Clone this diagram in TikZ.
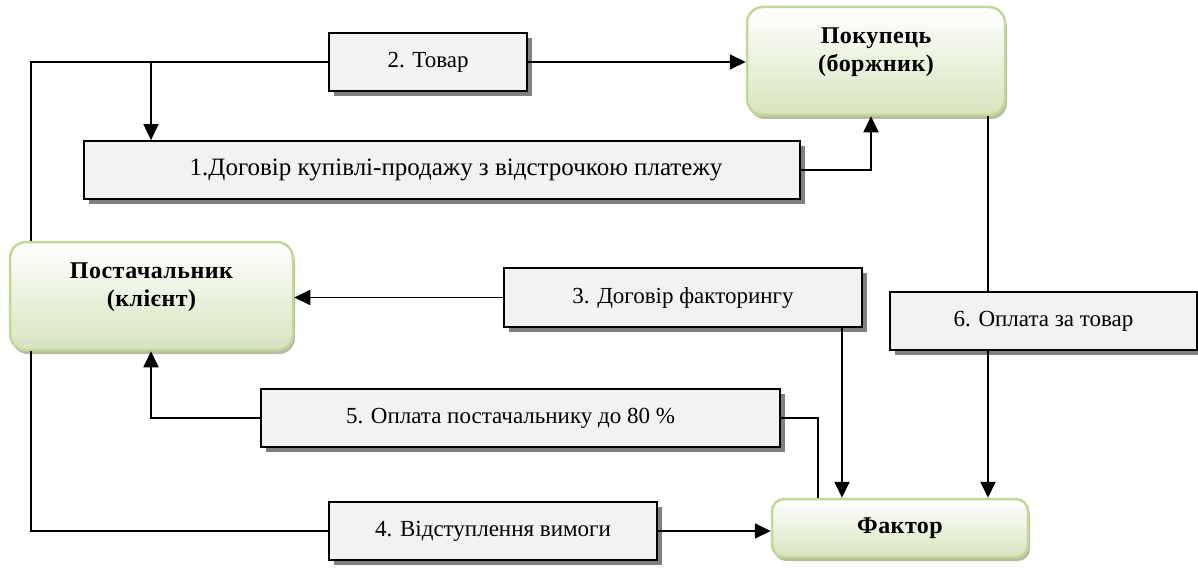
\documentclass[tikz,border=0pt]{standalone}
\usepackage{fontspec}
\setmainfont{Liberation Serif}
\newfontfamily\headfont[LetterSpace=2]{Liberation Serif}
\usetikzlibrary{arrows.meta,shadows}
\definecolor{boxG}{HTML}{F2F2F2}
\definecolor{shadowG}{HTML}{808080}
\definecolor{greenB}{HTML}{C3D69B}
\definecolor{greenF}{HTML}{D7E4BD}
\definecolor{greenS}{HTML}{A3AF88}
\tikzset{
  stepbox/.style={draw, line width=1.8pt, fill=boxG, inner sep=0pt,
    drop shadow={shadow xshift=5pt, shadow yshift=-5pt, fill=shadowG, opacity=1},
    font=\fontsize{23}{27}\selectfont},
  partybox/.style={draw=greenB, line width=2.5pt, rounded corners=16pt,
    top color=white, bottom color=greenF, inner sep=0pt, align=center,
    drop shadow={shadow xshift=2pt, shadow yshift=-4pt, fill=greenS, opacity=0.8},
    font=\headfont\bfseries\fontsize{24}{28}\selectfont},
}
\begin{document}
\begin{tikzpicture}[x=1pt, y=-1pt, >={Triangle[length=16pt,width=15pt]}, line width=1.8pt]
\useasboundingbox (0,0) rectangle (1198,567);
% учасники угоди
\node[partybox, minimum width=258pt, minimum height=108pt, text depth=22pt] (pok) at (876,61) {Покупець\\(боржник)};
\node[partybox, minimum width=283pt, minimum height=108pt, text depth=22pt] (post) at (151.5,296) {Постачальник\\(клієнт)};
\node[partybox, minimum width=256pt, minimum height=58pt, rounded corners=12pt] (fak) at (900,528) {Фактор};
% етапи
\node[stepbox, minimum width=198pt, minimum height=58pt] (tovar) at (428,62) {2. Товар};
\node[stepbox, minimum width=716pt, minimum height=58pt, font=\fontsize{25}{29}\selectfont] (dog) at (442,170) {\hspace*{28pt}1.Договір купівлі-продажу з відстрочкою платежу};
\node[stepbox, minimum width=358pt, minimum height=59pt] (dfak) at (683,297.5) {3. Договір факторингу};
\node[stepbox, minimum width=307pt, minimum height=58pt] (opl6) at (1043.5,321) {6. Оплата за товар};
\node[stepbox, minimum width=519pt, minimum height=58pt] (opl5) at (520.5,418) {5. Оплата постачальнику до 80 \%\hspace*{20pt}};
\node[stepbox, minimum width=328pt, minimum height=58pt] (vid) at (493,531) {4. Відступлення вимоги};
% опорні точки для вертикалей
\coordinate (lft) at (31,0);
\coordinate (c151) at (151,0);
\coordinate (c818) at (818,0);
\coordinate (c842) at (842,0);
\coordinate (c988) at (988,0);
% зв'язки
\draw (post.north -| lft) |- (tovar.west);
\draw[->] (tovar.east) -- (tovar.east -| pok.west);
\draw[->] (tovar.west -| c151) -- (dog.north -| c151);
\draw[->] (dog.east) -| ([xshift=-5pt]pok.south);
\draw (pok.south -| c988) -- (opl6.north -| c988);
\draw[->] (opl6.south -| c988) -- (fak.north -| c988);
\draw[->] (dfak.west) -- (dfak.west -| post.east);
\draw[->] (dfak.south -| c842) -- (fak.north -| c842);
\draw (fak.north -| c818) |- (opl5.east);
\draw[->] (opl5.west) -| (post.south -| c151);
\draw (post.south -| lft) |- (vid.west);
\draw[->] (vid.east) -- (vid.east -| fak.west);
\end{tikzpicture}
\end{document}
